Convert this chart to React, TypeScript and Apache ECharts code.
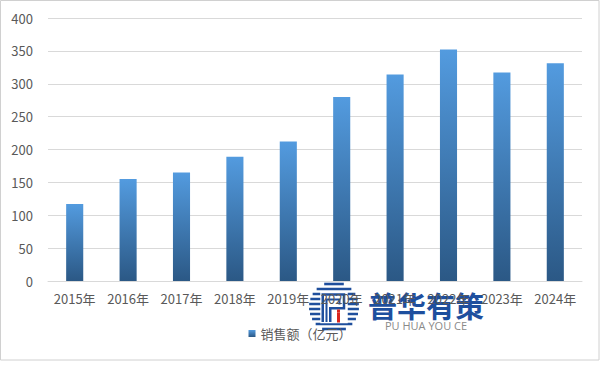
import React, { useEffect, useRef } from "react";
import * as echarts from "echarts";

const categories = ["2015年", "2016年", "2017年", "2018年", "2019年", "2020年", "2021年", "2022年", "2023年", "2024年"];
const salesValues = [117, 155, 165, 189, 212, 280, 314, 352, 317, 331];
const seriesName = "销售额（亿元）";
const yTicks = { min: 0, max: 400, interval: 50 };

const FONT = "'Noto Sans CJK SC', 'Noto Sans', sans-serif";

function buildLogo(cx: number, cy: number, r: number) {
  const children: any[] = [];
  const step = 5;
  for (let dy = -r + 2; dy <= r - 1; dy += step) {
    const half = Math.sqrt(Math.max(0, r * r - dy * dy));
    children.push({
      type: "line",
      shape: { x1: cx - half, y1: cy + dy, x2: cx + half, y2: cy + dy },
      style: { stroke: "#1f4f9d", lineWidth: 2.6 },
    });
  }
  children.push({
    type: "rect",
    shape: { x: cx - r * 0.55, y: cy - r * 0.6, width: r * 1.1, height: r * 1.25 },
    style: { fill: "#ffffff" },
  });
  children.push({
    type: "polyline",
    shape: { points: [[cx - r * 0.45, cy + r * 0.6], [cx - r * 0.45, cy - r * 0.5], [cx + r * 0.4, cy - r * 0.5], [cx + r * 0.4, cy + r * 0.05], [cx - r * 0.15, cy + r * 0.05], [cx - r * 0.15, cy + r * 0.6]] },
    style: { stroke: "#1f4f9d", lineWidth: 2.5, fill: "none" },
  });
  children.push({
    type: "polyline",
    shape: { points: [[cx - r * 0.3, cy + r * 0.6], [cx - r * 0.3, cy - r * 0.3], [cx + r * 0.22, cy - r * 0.3], [cx + r * 0.22, cy - r * 0.1]] },
    style: { stroke: "#1f4f9d", lineWidth: 2, fill: "none" },
  });
  children.push({
    type: "rect",
    shape: { x: cx + r * 0.12, y: cy + r * 0.22, width: 3, height: r * 0.4 },
    style: { fill: "#d9251d" },
  });
  children.push({
    type: "rect",
    shape: { x: cx + r * 0.12, y: cy + r * 0.1, width: 3, height: 3 },
    style: { fill: "#d9251d" },
  });
  return children;
}

export default function App() {
  const ref = useRef<HTMLDivElement>(null);
  useEffect(() => {
    if (!ref.current) return;
    const chart = echarts.init(ref.current, undefined, { renderer: "svg" });
    chart.setOption({
      animation: false,
      backgroundColor: "#ffffff",
      textStyle: { fontFamily: FONT },
      grid: { left: 48, right: 18, top: 18, bottom: 85, containLabel: false },
      legend: {
        data: [seriesName],
        bottom: 21,
        left: "center",
        itemWidth: 7,
        itemHeight: 7,
        itemGap: 4,
        icon: "rect",
        textStyle: { color: "#595959", fontSize: 13, fontFamily: FONT },
      },
      xAxis: {
        type: "category",
        data: categories,
        axisLine: { lineStyle: { color: "#d9d9d9" } },
        axisTick: { show: false },
        axisLabel: { color: "#595959", fontSize: 13, margin: 11, interval: 0, fontFamily: FONT },
      },
      yAxis: {
        type: "value",
        min: yTicks.min,
        max: yTicks.max,
        interval: yTicks.interval,
        axisLine: { show: false },
        axisTick: { show: false },
        splitLine: { lineStyle: { color: "#d9d9d9" } },
        axisLabel: { color: "#595959", fontSize: 13, margin: 15, fontFamily: FONT },
      },
      series: [
        {
          name: seriesName,
          type: "bar",
          data: salesValues,
          barWidth: "32%",
          itemStyle: {
            color: new echarts.graphic.LinearGradient(0, 0, 0, 1, [
              { offset: 0, color: "#539bdf" },
              { offset: 1, color: "#2b5885" },
            ]),
          },
        },
      ],
      graphic: [
        {
          type: "rect",
          z: -10,
          silent: true,
          shape: { x: 0.5, y: 0.5, width: 598.5, height: 359.5 },
          style: { fill: "none", stroke: "#d0d0d0", lineWidth: 1 },
        },
        {
          type: "group",
          z: 100,
          silent: true,
          children: [
            ...buildLogo(334, 307, 25),
            {
              type: "text",
              x: 368,
              y: 290,
              style: {
                text: "普华有策",
                font: "bold 29px 'Noto Sans CJK SC', sans-serif",
                fill: "#1e4f9e",
              },
            },
            {
              type: "text",
              x: 385,
              y: 320,
              style: {
                text: "PU HUA YOU CE",
                font: "11px 'Open Sans', 'Noto Sans', sans-serif",
                fill: "#8a8a8a",
              },
            },
          ],
        },
      ],
    });
    return () => chart.dispose();
  }, []);
  return (
    <div
      ref={ref}
      style={{ position: "fixed", left: 0, top: 0, width: 600, height: 366 }}
    />
  );
}
